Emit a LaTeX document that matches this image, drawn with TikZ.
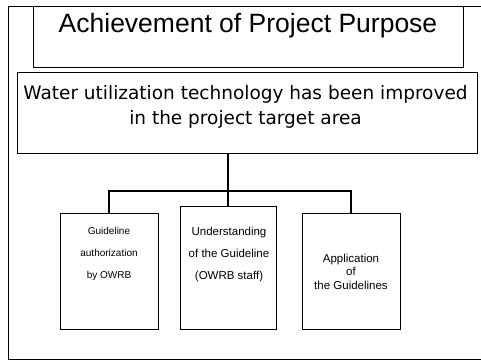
\documentclass[tikz,border=0pt]{standalone}
\usepackage{fontspec}
\setmainfont{Liberation Sans}
\newfontfamily\verdanalike{DejaVu Sans}
\begin{document}
\begin{tikzpicture}[x=1pt,y=1pt,
  frame/.style={draw=black,line width=0.8pt},
  box/.style={frame,inner sep=0pt},
  conn/.style={draw=black,line width=2.6pt},
  smalltext/.style={align=center,inner sep=0pt}]
\useasboundingbox (0,0) rectangle (481,361);
\fill[white] (0,0) rectangle (481,361);

% outer frame, open on the right
\draw[frame] (495,355) -- (8,355) -- (8,2) -- (495,2);

% title panel
\node[box,minimum width=430pt,minimum height=61pt] (titlebox) at (248,324.5) {};
\node[anchor=base,inner sep=0pt,font=\fontsize{26.5}{30}\selectfont] (title) at (248,328) {Achievement of Project Purpose};

% project purpose box
\node[box,minimum width=460pt,minimum height=81pt] (goal) at (247,248.5) {};
\node[anchor=base,inner sep=0pt,align=center,font=\verdanalike\fontsize{18.5}{25}\selectfont] (goaltext) at (245.5,236)
  {Water utilization technology has been improved\\in the project target area};

% output boxes
\node[box,minimum width=98pt,minimum height=116pt] (box1) at (109,90) {};
\node[box,minimum width=96pt,minimum height=123pt] (box2) at (228,93.5) {};
\node[box,minimum width=98pt,minimum height=116pt] (box3) at (351,90) {};

\node[smalltext,font=\fontsize{10}{22}\selectfont] (t1) at (109,107) {Guideline\\authorization\\by OWRB};
\node[smalltext,font=\fontsize{11.5}{22}\selectfont] (t2) at (229,106) {Understanding\\of the Guideline\\(OWRB staff)};
\node[smalltext,font=\fontsize{11.5}{13.5}\selectfont] (t3) at (351,89.5) {Application\\of\\the Guidelines};

% connectors
\coordinate (bar) at (228,170);
\draw[conn] (goal.south -| box2.north) -- (box2.north);
\draw[conn,line join=miter] (box1.north) |- (bar) -| (box3.north);
\end{tikzpicture}
\end{document}
